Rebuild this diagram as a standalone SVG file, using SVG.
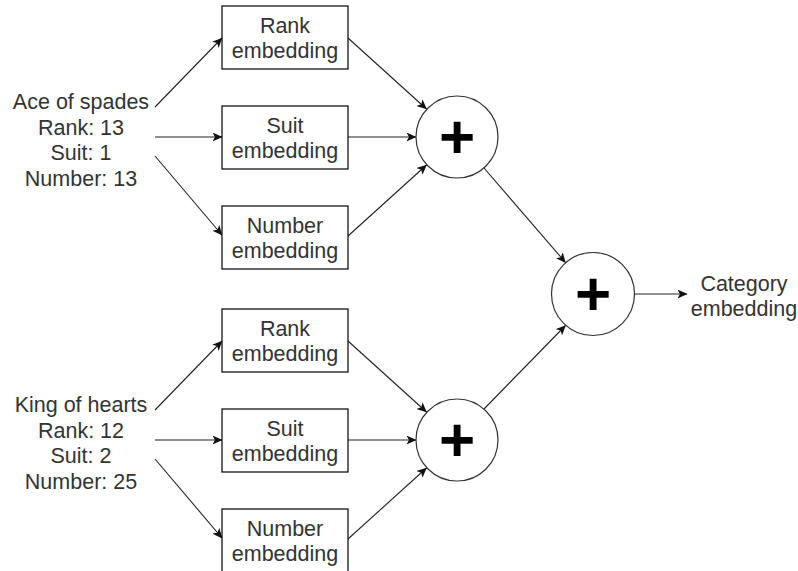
<svg xmlns="http://www.w3.org/2000/svg" width="798" height="571" viewBox="0 0 798 571">
  <style>
    .box { fill: #fff; stroke: #000; stroke-width: 1.2; }
    .sum { fill: #fff; stroke: #333; stroke-width: 1.2; }
    .lbl { font-family: "Liberation Sans", Arial, sans-serif; font-size: 21.5px; fill: #333; text-anchor: middle; }
    .plus { font-family: "Liberation Sans", Arial, sans-serif; font-size: 62px; font-weight: bold; fill: #000; text-anchor: middle; }
    .edge { fill: none; stroke: #222; stroke-width: 1.1; marker-end: url(#arrow); }
  </style>
  <defs>
    <marker id="arrow" markerUnits="userSpaceOnUse" markerWidth="10" markerHeight="9" viewBox="0 0 10 9" refX="9.5" refY="4.5" orient="auto">
      <path d="M0,0 L10,4.5 L0,9 L2.5,4.5 Z" fill="#111"/>
    </marker>
  </defs>

  <rect width="798" height="571" fill="#fff"/>

  <!-- connectors -->
  <g id="connectors">
    <!-- first card -->
    <line class="edge" x1="155" y1="107" x2="222" y2="38"/>
    <line class="edge" x1="155" y1="137" x2="222" y2="137"/>
    <line class="edge" x1="155" y1="156" x2="222" y2="235"/>
    <line class="edge" x1="348" y1="38" x2="426.5" y2="109"/>
    <line class="edge" x1="348" y1="137" x2="416" y2="137"/>
    <line class="edge" x1="348" y1="236" x2="426.5" y2="165"/>
    <!-- second card -->
    <line class="edge" x1="155" y1="410" x2="222" y2="341"/>
    <line class="edge" x1="155" y1="440" x2="222" y2="440"/>
    <line class="edge" x1="155" y1="459" x2="222" y2="538"/>
    <line class="edge" x1="348" y1="341" x2="426.5" y2="412"/>
    <line class="edge" x1="348" y1="440" x2="416" y2="440"/>
    <line class="edge" x1="348" y1="539" x2="426.5" y2="468"/>
    <!-- sums into final sum -->
    <line class="edge" x1="484" y1="168" x2="565.5" y2="262.5"/>
    <line class="edge" x1="484" y1="409" x2="565.5" y2="325.5"/>
    <line class="edge" x1="635" y1="294" x2="687" y2="294"/>
  </g>

  <!-- first card -->
  <g id="card-ace">
    <text class="lbl" x="81" y="109">Ace of spades</text>
    <text class="lbl" x="81" y="134.5">Rank: 13</text>
    <text class="lbl" x="81" y="160">Suit: 1</text>
    <text class="lbl" x="81" y="185.5">Number: 13</text>
  </g>
  <g id="rank-emb-1">
    <rect class="box" x="222" y="6" width="126" height="63"/>
    <text class="lbl" x="285" y="32.5">Rank</text>
    <text class="lbl" x="285" y="57.5">embedding</text>
  </g>
  <g id="suit-emb-1">
    <rect class="box" x="222" y="106" width="126" height="63"/>
    <text class="lbl" x="285" y="132.5">Suit</text>
    <text class="lbl" x="285" y="157.5">embedding</text>
  </g>
  <g id="number-emb-1">
    <rect class="box" x="222" y="206" width="126" height="63"/>
    <text class="lbl" x="285" y="232.5">Number</text>
    <text class="lbl" x="285" y="257.5">embedding</text>
  </g>
  <g id="sum-1">
    <circle class="sum" cx="457" cy="137" r="41"/>
    <text class="plus" x="457" y="158">+</text>
  </g>

  <!-- second card -->
  <g id="card-king">
    <text class="lbl" x="81" y="412">King of hearts</text>
    <text class="lbl" x="81" y="437.5">Rank: 12</text>
    <text class="lbl" x="81" y="463">Suit: 2</text>
    <text class="lbl" x="81" y="488.5">Number: 25</text>
  </g>
  <g id="rank-emb-2">
    <rect class="box" x="222" y="309" width="126" height="63"/>
    <text class="lbl" x="285" y="335.5">Rank</text>
    <text class="lbl" x="285" y="360.5">embedding</text>
  </g>
  <g id="suit-emb-2">
    <rect class="box" x="222" y="409" width="126" height="63"/>
    <text class="lbl" x="285" y="435.5">Suit</text>
    <text class="lbl" x="285" y="460.5">embedding</text>
  </g>
  <g id="number-emb-2">
    <rect class="box" x="222" y="509" width="126" height="63"/>
    <text class="lbl" x="285" y="535.5">Number</text>
    <text class="lbl" x="285" y="560.5">embedding</text>
  </g>
  <g id="sum-2">
    <circle class="sum" cx="457" cy="440" r="41"/>
    <text class="plus" x="457" y="461">+</text>
  </g>

  <!-- final sum -->
  <g id="sum-total">
    <circle class="sum" cx="593" cy="294" r="41.5"/>
    <text class="plus" x="593" y="315">+</text>
  </g>
  <g id="category-emb">
    <text class="lbl" x="744" y="290.5">Category</text>
    <text class="lbl" x="744" y="316">embedding</text>
  </g>
</svg>
